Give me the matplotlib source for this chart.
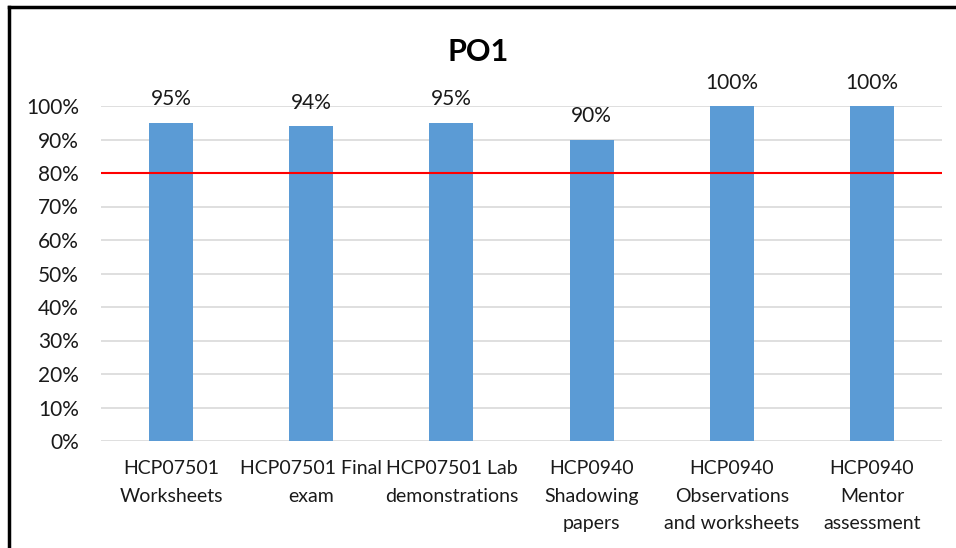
import matplotlib as mpl
import matplotlib.pyplot as plt
import numpy as np

mpl.rcParams["font.family"] = ["Lato", "DejaVu Sans"]

categories = ["HCP07501\nWorksheets", "HCP07501 Final\nexam", "HCP07501 Lab\ndemonstrations",
              "HCP0940\nShadowing\npapers", "HCP0940\nObservations\nand worksheets", "HCP0940\nMentor\nassessment"]
values = [95, 94, 95, 90, 100, 100]
target = 80
yticks = np.arange(0, 101, 10)

fig = plt.figure(figsize=(9.56, 5.48), dpi=100)
ax = fig.add_axes([101/956, 1-441/548, 841/956, 335/548])

x = np.arange(len(values))
ax.bar(x, np.array(values)/100, width=0.314, color="#5B9BD5", zorder=2)
ax.axhline(target/100, color="#FF0000", lw=1.5, zorder=3)
for xi, v in zip(x, values):
    ax.text(xi, v/100 + 0.04, f"{v}%", ha="center", va="bottom", fontsize=15, color="#1a1a1a")

ax.set_xlim(-0.5, 5.5)
ax.set_ylim(0, 1.0)
ax.set_yticks(yticks/100)
ax.set_yticklabels([f"{t}%" for t in yticks], fontsize=15, color="#1a1a1a")
ax.set_xticks(x)
ax.set_xticklabels(categories, fontsize=14, color="#1a1a1a", linespacing=1.75)
ax.tick_params(length=0)
ax.tick_params(axis="y", pad=16)
ax.tick_params(axis="x", pad=14)
ax.grid(axis="y", color="#D9D9D9", lw=1.2, zorder=0)
for s in ax.spines.values():
    s.set_visible(False)

fig.text(0.5, 1-52/548, "PO1", ha="center", va="center", fontsize=22, fontweight="bold")

# chart border
fig.add_artist(plt.Line2D([9/956, 9/956], [0, 1-7/548], color="black", lw=2.5, transform=fig.transFigure))
fig.add_artist(plt.Line2D([9/956, 1], [1-7/548, 1-7/548], color="black", lw=2.5, transform=fig.transFigure))

fig.savefig("out.png", dpi=100)
